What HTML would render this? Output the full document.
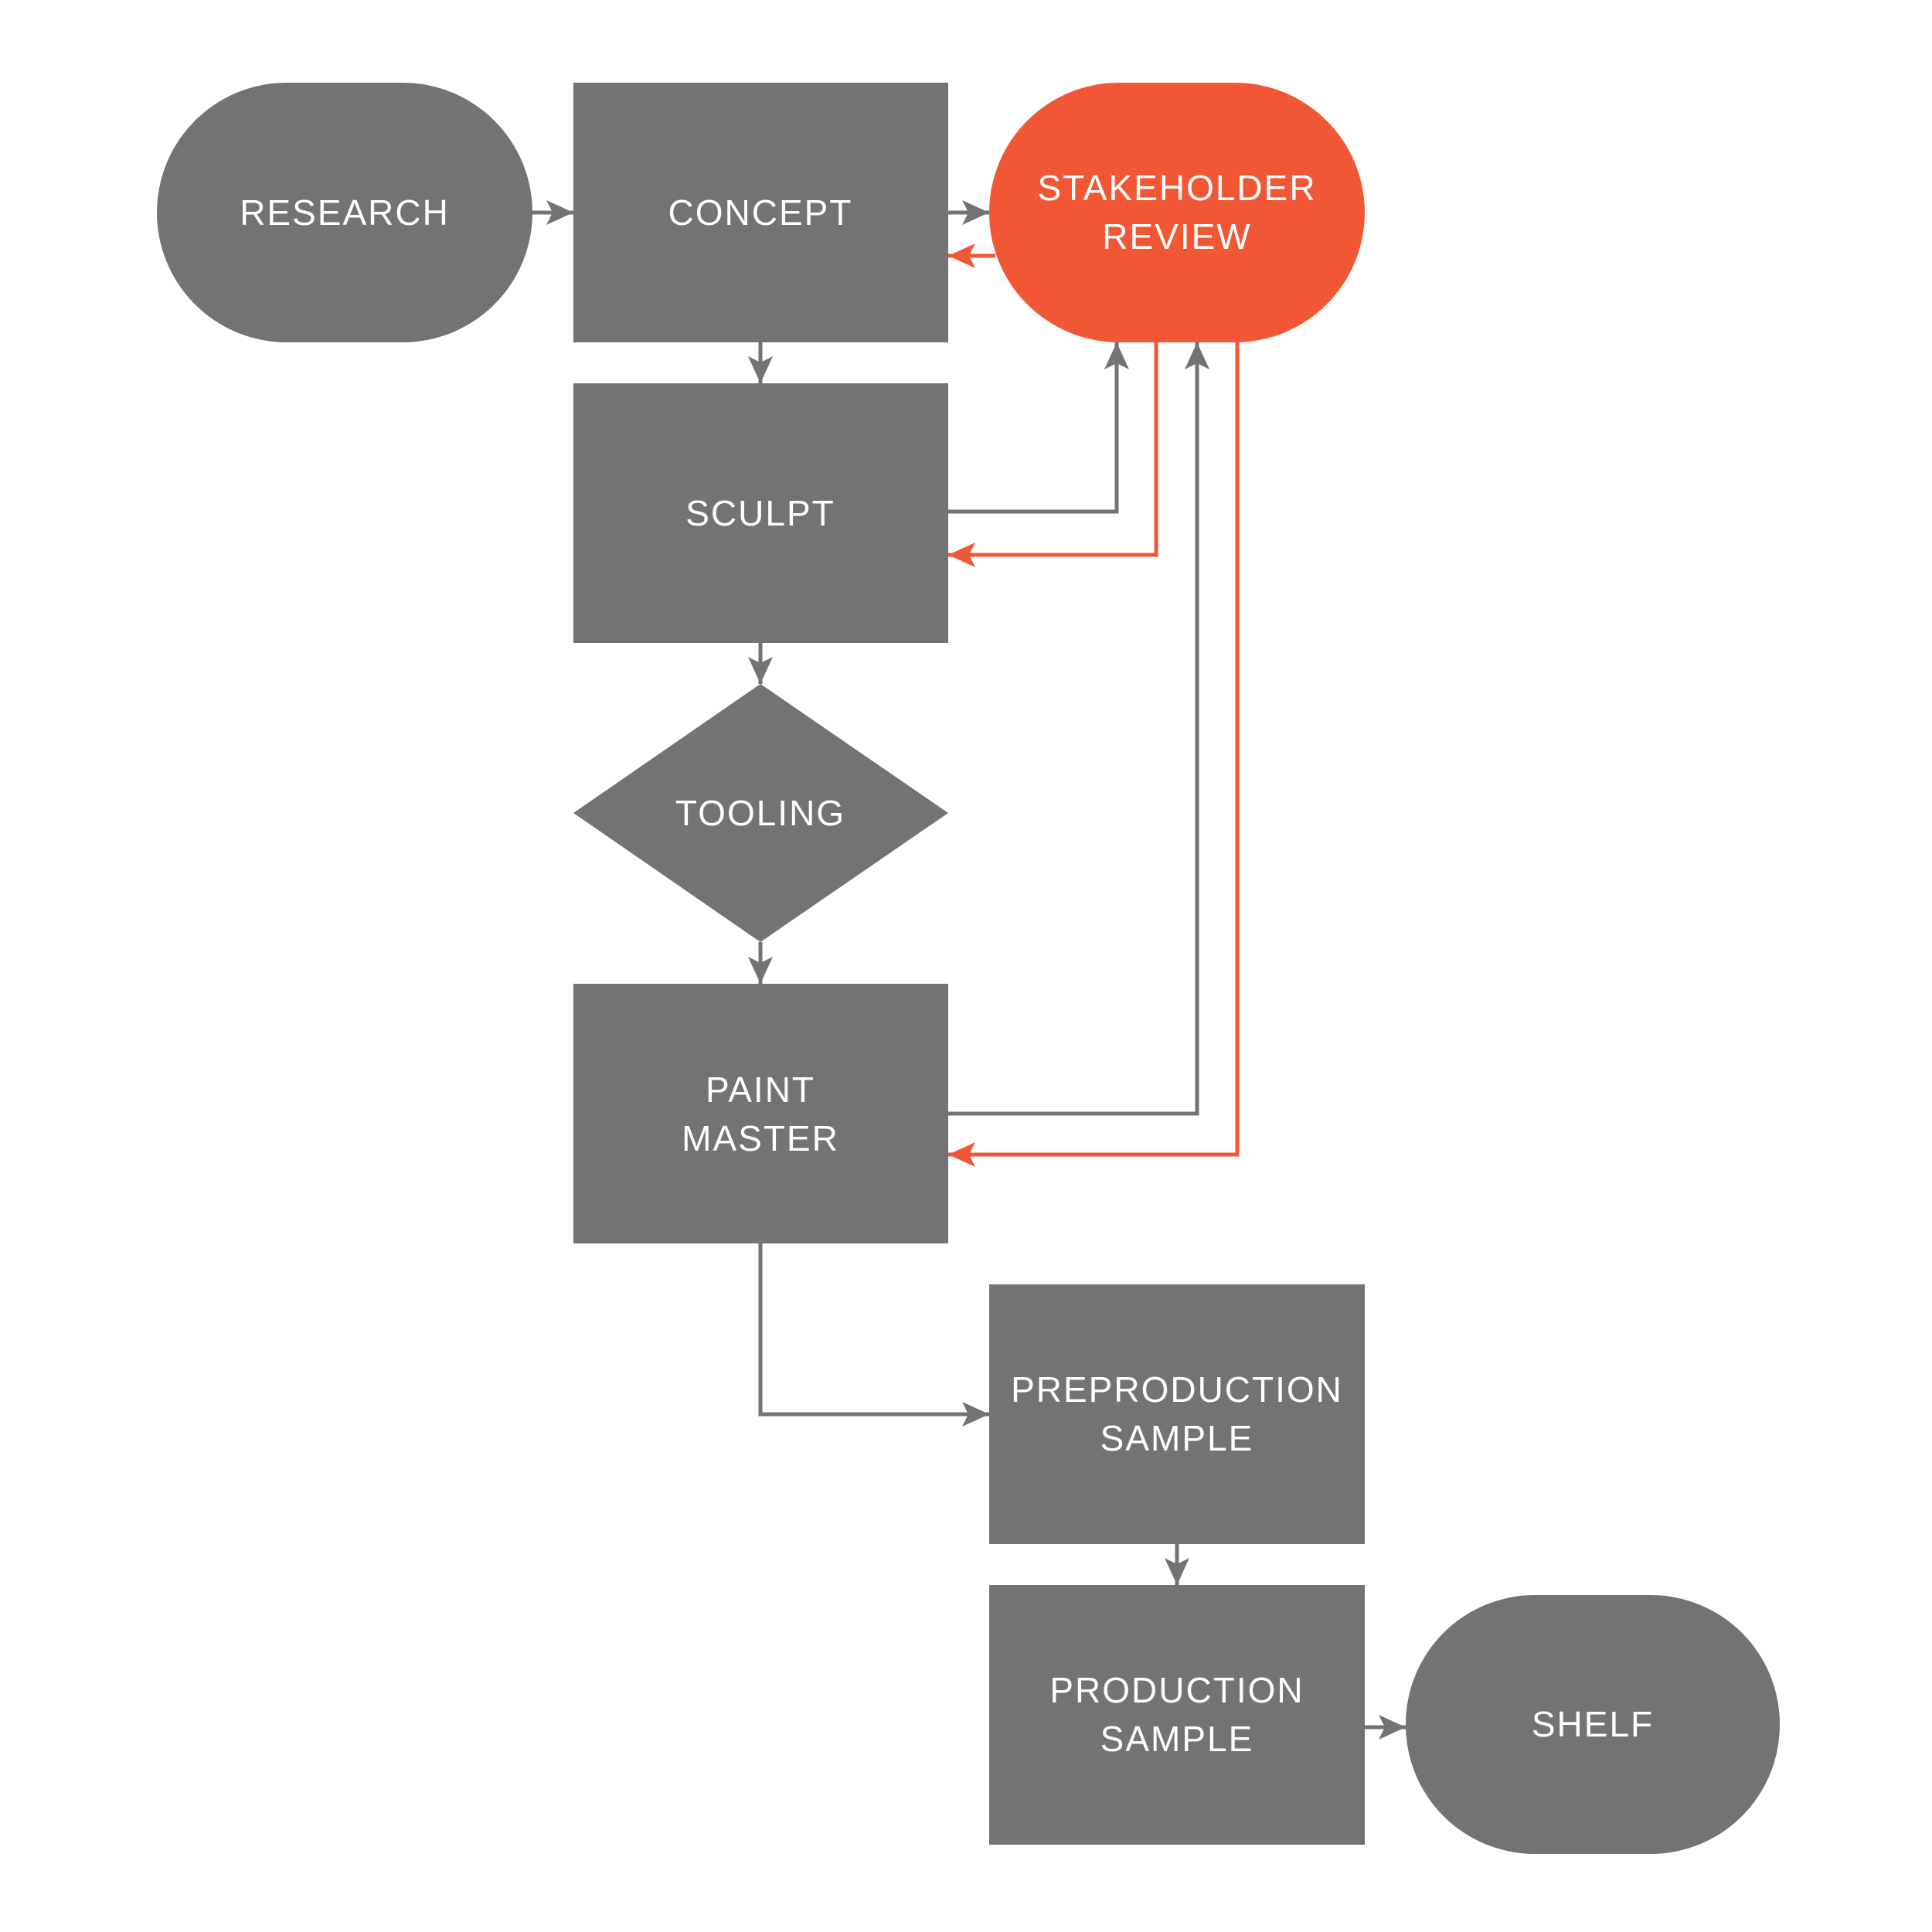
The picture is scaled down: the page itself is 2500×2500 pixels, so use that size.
<!DOCTYPE html>
<html><head><meta charset="utf-8"><style>
html,body{margin:0;padding:0;background:#fff;}
svg{display:block}
text{font-family:"Liberation Sans",sans-serif;font-size:46px;fill:#fff;text-anchor:middle;letter-spacing:2px}
</style></head><body>
<svg width="2500" height="2500" viewBox="0 0 2500 2500" xmlns="http://www.w3.org/2000/svg">
<defs>
<marker id="ag" markerUnits="userSpaceOnUse" markerWidth="40" markerHeight="34" refX="35" refY="16" orient="auto" viewBox="0 0 40 34">
<path d="M0,0 L35,16 L0,32 L8,16 z" fill="#737373"/></marker>
<marker id="ao" markerUnits="userSpaceOnUse" markerWidth="40" markerHeight="34" refX="35" refY="16" orient="auto" viewBox="0 0 40 34">
<path d="M0,0 L35,16 L0,32 L8,16 z" fill="#f15735"/></marker>
</defs>
<g fill="#737373">
<rect x="203" y="107" width="486" height="336" rx="168"/>
<rect x="742" y="107" width="485" height="336"/>
<rect x="742" y="496" width="485" height="336"/>
<polygon points="742,1052 984,885 1227,1052 984,1219"/>
<rect x="742" y="1273" width="485" height="336"/>
<rect x="1280" y="1662" width="486" height="336"/>
<rect x="1280" y="2051" width="486" height="336"/>
<rect x="1819" y="2064" width="484" height="335" rx="167"/>
</g>
<rect x="1280" y="107" width="486" height="336" rx="168" fill="#f15735"/>
<g fill="none" stroke-width="5">
<g stroke="#737373" marker-end="url(#ag)">
<polyline points="689,275 742,275"/>
<polyline points="1227,275 1280,275"/>
<polyline points="984,443 984,496"/>
<polyline points="1227,662 1445,662 1445,443"/>
<polyline points="984,832 984,885"/>
<polyline points="984,1219 984,1273"/>
<polyline points="1227,1441 1549,1441 1549,443"/>
<polyline points="984,1609 984,1830 1280,1830"/>
<polyline points="1523,1998 1523,2051"/>
<polyline points="1766,2235 1819,2235"/>
</g>
<g stroke="#f15735" marker-end="url(#ao)">
<polyline points="1288,331 1227,331"/>
<polyline points="1496,443 1496,718 1227,718"/>
<polyline points="1601,443 1601,1494 1227,1494"/>
</g>
</g>
<text x="446" y="291">RESEARCH</text>
<text x="984" y="291">CONCEPT</text>
<text x="1523" y="259">STAKEHOLDER</text>
<text x="1523" y="322">REVIEW</text>
<text x="984" y="680">SCULPT</text>
<text x="984" y="1068">TOOLING</text>
<text x="984" y="1426">PAINT</text>
<text x="984" y="1489">MASTER</text>
<text x="1523" y="1814">PREPRODUCTION</text>
<text x="1523" y="1877">SAMPLE</text>
<text x="1523" y="2203">PRODUCTION</text>
<text x="1523" y="2266">SAMPLE</text>
<text x="2061" y="2247">SHELF</text>
</svg>
</body></html>
